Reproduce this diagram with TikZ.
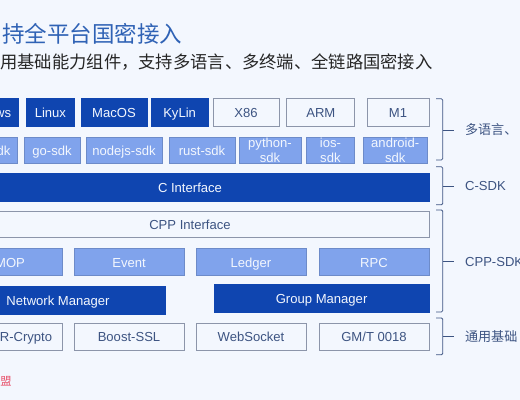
\documentclass[tikz,border=0pt]{standalone}
\usepackage{fontspec}
\setmainfont{Liberation Sans}
\newfontfamily\cjk{Noto Sans CJK SC}
\usetikzlibrary{positioning}
\definecolor{cPage}{HTML}{F3F7FE}
\definecolor{cDark}{HTML}{0F45B0}
\definecolor{cLight}{HTML}{80A3EC}
\definecolor{cLine}{HTML}{8C95AA}
\definecolor{cText}{HTML}{3D5482}
\definecolor{cTitle}{HTML}{2F62B5}
\definecolor{cMark}{HTML}{E8506A}

\begin{document}
\begin{tikzpicture}[
    x=1cm,y=1cm,
    box/.style={draw,line width=0.5pt,align=center,inner sep=0pt,font=\fontsize{9.3}{10.8}\selectfont},
    one/.style={text height=1.6ex,text depth=0.2ex},
    dk/.style ={box,fill=cDark,draw=cDark,text=cPage},
    lt/.style ={box,fill=cLight,draw=cLight!85!black,text=cPage},
    wh/.style ={box,fill=cPage,draw=cLine,text=cText},
    row1/.style={one,minimum height=0.7cm},
    row2/.style={minimum height=0.65cm},
    wide/.style={one,minimum width=2.75cm,minimum height=0.68cm},
    brk/.style={draw=cText,line width=0.6pt,rounded corners=1pt},
    side/.style={anchor=west,text=cText,inner sep=0pt,font=\fontsize{9.3}{10}\selectfont},
  ]
  \useasboundingbox (0,0) rectangle (13,10);
  \clip (0,0) rectangle (13,10);
  \fill[cPage] (0,0) rectangle (13,10);

  % ---------- HEADINGS ----------
  \node[anchor=west,inner sep=0pt,text=cTitle,font=\cjk\fontsize{16}{18}\selectfont] (title) at (0.05,9.15) {持全平台国密接入};
  \node[anchor=west,inner sep=0pt,text=black!85,font=\cjk\fontsize{12.3}{14}\selectfont] (sub) at (0,8.45) {用基础能力组件，支持多语言、多终端、全链路国密接入};

  % ---------- PLATFORMS ----------
  \node[dk,row1,minimum width=0.75cm] (win)   at (0.08,7.18)  {ws};
  \node[dk,row1,minimum width=1.22cm] (linux) at (1.26,7.18)  {Linux};
  \node[dk,row1,minimum width=1.65cm] (macos) at (2.85,7.18)  {MacOS};
  \node[dk,row1,minimum width=1.43cm] (kylin) at (4.49,7.18)  {KyLin};
  \node[wh,row1,minimum width=1.65cm] (xsix)  at (6.15,7.18)  {X86};
  \node[wh,row1,minimum width=1.70cm] (arm)   at (8.02,7.18)  {ARM};
  \node[wh,row1,minimum width=1.55cm] (mone)  at (9.95,7.18)  {M1};

  % ---------- LANGUAGE SDKS ----------
  \node[lt,row2,one,minimum width=0.675cm] (java) at (0.0875,6.25) {dk};
  \node[lt,row2,one,minimum width=1.40cm]  (go)   at (1.30,6.25)   {go-sdk};
  \node[lt,row2,one,minimum width=1.90cm]  (node) at (3.10,6.25)   {nodejs-sdk};
  \node[lt,row2,one,minimum width=1.65cm]  (rust) at (5.05,6.25)   {rust-sdk};
  \node[lt,row2,minimum width=1.55cm]      (py)   at (6.75,6.25)   {python-\\sdk};
  \node[lt,row2,minimum width=1.22cm]      (ios)  at (8.26,6.25)   {ios-\\sdk};
  \node[lt,row2,minimum width=1.60cm]      (andr) at (9.88,6.25)   {android-\\sdk};

  % ---------- INTERFACES ----------
  \node[dk,one,minimum width=11.95cm,minimum height=0.7cm]  (cif)   at (4.75,5.325) {C Interface};
  \node[wh,one,minimum width=11.95cm,minimum height=0.65cm] (cppif) at (4.75,4.4)   {CPP Interface};

  % ---------- CPP MODULES ----------
  \node[lt,wide,minimum width=2.6cm] (mop)    at (0.25,3.45) {MOP};
  \node[lt,wide] (event)  at (3.225,3.45) {Event};
  \node[lt,wide] (ledger) at (6.275,3.45) {Ledger};
  \node[lt,wide] (rpc)    at (9.35,3.45)  {RPC};
  \node[dk,one,minimum width=5.375cm,minimum height=0.68cm] (net) at (1.45,2.49)  {Network Manager};
  \node[dk,one,minimum width=5.375cm,minimum height=0.68cm] (grp) at (8.04,2.54)  {Group Manager};

  % ---------- BASE COMPONENTS ----------
  \node[wh,wide,minimum width=1.80cm] (crypto) at (0.65,1.58) {R-Crypto};
  \node[wh,wide] (boost)  at (3.225,1.58) {Boost-SSL};
  \node[wh,wide] (socket) at (6.275,1.58) {WebSocket};
  \node[wh,wide] (gmt)    at (9.35,1.58)  {GM/T 0018};

  % ---------- BRACKETS ----------
  \draw[brk] (10.9,7.53) -- (11.07,7.53) -- (11.07,6) -- (10.9,6);
  \draw[brk] (11.07,6.75) -- (11.35,6.75);
  \draw[brk] (10.9,5.83) -- (11.07,5.83) -- (11.07,4.88) -- (10.9,4.88);
  \draw[brk] (11.07,5.35) -- (11.35,5.35);
  \draw[brk] (10.9,4.75) -- (11.07,4.75) -- (11.07,2.2) -- (10.9,2.2);
  \draw[brk] (11.07,3.46) -- (11.35,3.46);
  \draw[brk] (10.9,2.05) -- (11.07,2.05) -- (11.07,1.13) -- (10.9,1.13);
  \draw[brk] (11.07,1.59) -- (11.35,1.59);

  \node[side,font=\cjk\fontsize{9.3}{10}\selectfont] (lang) at (11.62,6.75) {多语言、};
  \node[side] (csdk) at (11.62,5.35) {C-SDK};
  \node[side] (cppsdk) at (11.62,3.46) {CPP-SDK};
  \node[side,font=\cjk\fontsize{9.3}{10}\selectfont] (base) at (11.62,1.59) {通用基础};

  % ---------- MARK ----------
  \node[anchor=west,inner sep=0pt,text=cMark,font=\cjk\fontsize{8}{9}\selectfont] (mark) at (0,0.48) {盟};
\end{tikzpicture}
\end{document}
